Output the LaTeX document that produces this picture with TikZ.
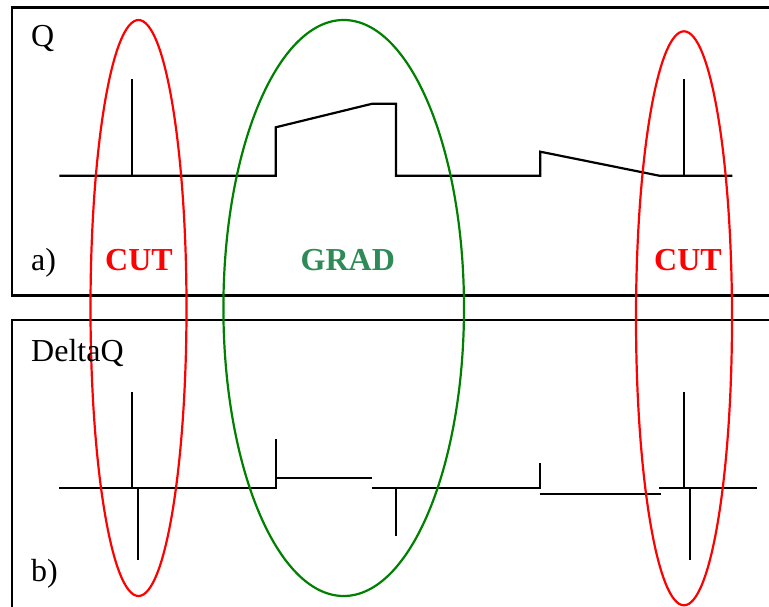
\documentclass[tikz,border=0pt]{standalone}
\usepackage{fontspec}
\setmainfont{Liberation Serif}
\definecolor{cutred}{RGB}{255,0,0}
\definecolor{gradgreen}{RGB}{0,128,0}
\definecolor{gradtext}{RGB}{46,139,87}
\begin{document}
\begin{tikzpicture}[x=1pt,y=-1pt,
  panel/.style={draw=black,line width=2.2pt},
  sig/.style={draw=black,line width=2.2pt},
  cutell/.style={draw=cutred,line width=2.2pt},
  gradell/.style={draw=gradgreen,line width=2.2pt},
  lbl/.style={anchor=base west,inner sep=0pt,font=\fontsize{32}{36}\selectfont},
  cutlbl/.style={lbl,text=cutred,font=\fontsize{32}{36}\selectfont\bfseries},
  gradlbl/.style={lbl,text=gradtext,font=\fontsize{32}{36}\selectfont\bfseries}]
\useasboundingbox (0,0) rectangle (769,606);
\clip (0,0) rectangle (769,606);
% panels
\draw[panel] (12,7.5) rectangle (790,295.5);
\draw[panel] (12,320) rectangle (790,640);
% top signal
\draw[sig] (59.3,175.7) -- (275.7,175.7) -- (275.7,127.3) -- (372.3,103.7) -- (396,103.7)
  -- (396,175.7) -- (540.3,175.7) -- (540.3,151.7) -- (659.3,175.7) -- (732.3,175.7);
\draw[sig] (132.3,175.7) -- (132.3,79.3);
\draw[sig] (684,175.7) -- (684,79.3);
% bottom signal
\draw[sig] (59.3,487.7) -- (275.7,487.7) -- (275.7,439.3);
\draw[sig] (275.7,478.3) -- (372.3,478.3);
\draw[sig] (371.7,487.7) -- (540.3,487.7) -- (540.3,463.3);
\draw[sig] (540.3,494) -- (660.7,494);
\draw[sig] (659.3,487.7) -- (756.7,487.7);
\draw[sig] (132.3,487.7) -- (132.3,391.7);
\draw[sig] (138,487.7) -- (138,560);
\draw[sig] (396,487.7) -- (396,536);
\draw[sig] (684,487.7) -- (684,391.7);
\draw[sig] (690,487.7) -- (690,560);
% ellipses
\draw[cutell] (138.5,308) ellipse [x radius=48, y radius=288];
\draw[gradell] (343.7,308) ellipse [x radius=120.3, y radius=288];
\draw[cutell] (684,318.3) ellipse [x radius=48, y radius=287];
% labels
\node[lbl] (q) at (31,46) {Q};
\node[lbl] (a) at (31,270) {a)};
\node[cutlbl] (cut1) at (105,270) {CUT};
\node[gradlbl] (grad) at (300.5,270) {GRAD};
\node[cutlbl] (cut2) at (654,270) {CUT};
\node[lbl] (dq) at (31,361) {DeltaQ};
\node[lbl] (b) at (31,581.7) {b)};
\end{tikzpicture}
\end{document}
